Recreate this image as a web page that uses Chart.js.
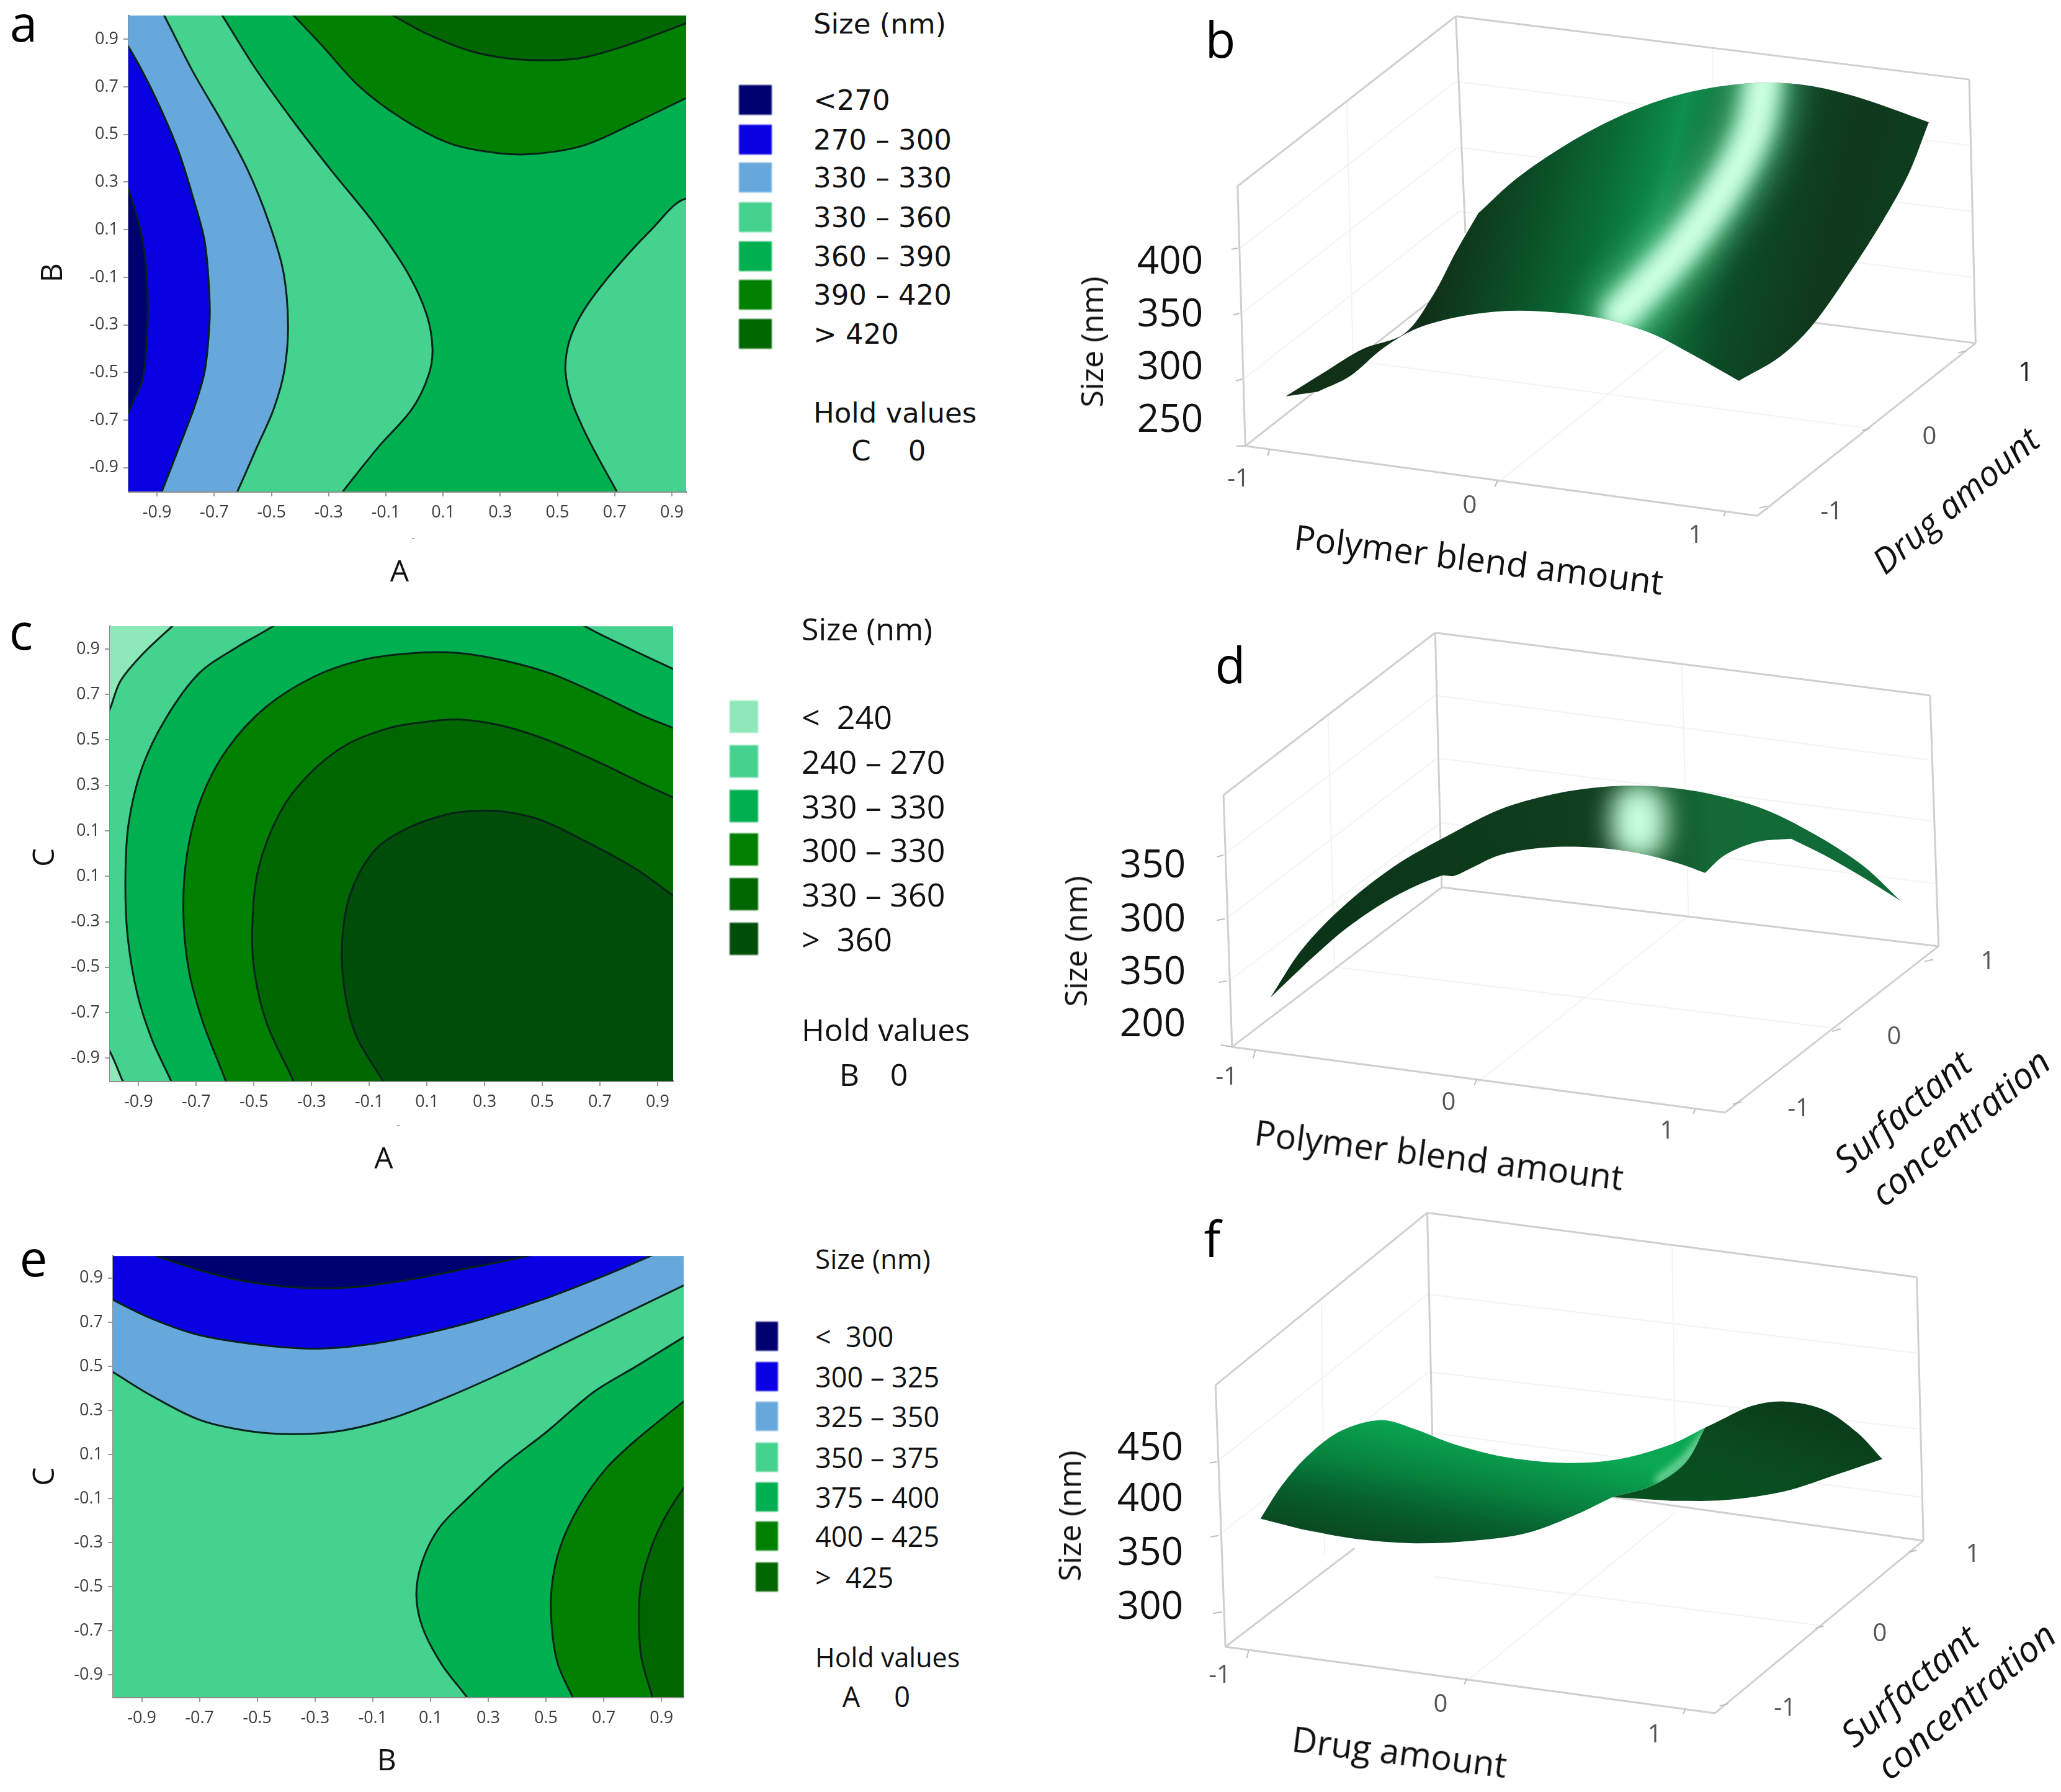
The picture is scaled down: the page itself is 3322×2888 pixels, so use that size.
<!DOCTYPE html>
<html>
<head>
<meta charset="utf-8">
<title>Size response surfaces</title>
<script src="https://cdn.jsdelivr.net/npm/chart.js@4/dist/chart.umd.js"></script>
<style>
  html, body { margin: 0; padding: 0; background: #fff; }
  #page { position: relative; width: 3322px; height: 2888px; overflow: hidden; background: #fff; }
  canvas { position: absolute; }
  .txt { position: absolute; white-space: pre; line-height: 1; transform-origin: center; }
  .swatch { position: absolute; filter: blur(1px); }
</style>
</head>
<body>
<div id="page"></div>
<script>
// colours of the contour bands
const navy = "#000070", blue = "#0a00e4", skyBlue = "#67a8dc", lightGreen = "#45d18e",
      midGreen = "#00b050", green = "#008000", darkGreen = "#006600", deepGreen = "#004d0a", paleGreen = "#8fe8ba";

// far corners, outside the axes, used to close the band shapes
const TL = [-1.4, 1.4], TR = [1.4, 1.4], BL = [-1.4, -1.4], BR = [1.4, -1.4];

// --- panel a: A vs B ---
const tickValues = [-0.9, -0.7, -0.5, -0.3, -0.1, 0.1, 0.3, 0.5, 0.7, 0.9];
const tickLabels = ["-0.9", "-0.7", "-0.5", "-0.3", "-0.1", "0.1", "0.3", "0.5", "0.7", "0.9"];
const aNavyEdge = [[-1.03, 0.38], [-0.96, 0.11], [-0.937, -0.08], [-0.933, -0.29], [-0.95, -0.525], [-0.983, -0.62], [-1.03, -0.74]];
const aBlueEdge = [[-1.03, 0.93], [-0.958, 0.781], [-0.892, 0.621], [-0.825, 0.43], [-0.775, 0.239], [-0.733, 0.048], [-0.717, -0.175], [-0.717, -0.302], [-0.733, -0.493], [-0.767, -0.637], [-0.817, -0.796], [-0.883, -1.0], [-0.9, -1.05]];
const aSkyEdge = [[-0.9, 1.05], [-0.875, 1.0], [-0.775, 0.765], [-0.675, 0.558], [-0.583, 0.351], [-0.508, 0.128], [-0.458, -0.079], [-0.442, -0.302], [-0.455, -0.493], [-0.492, -0.653], [-0.55, -0.812], [-0.617, -0.995], [-0.64, -1.05]];
const aLeftEdge = [[-0.7, 1.05], [-0.672, 1.0], [-0.558, 0.781], [-0.425, 0.558], [-0.292, 0.351], [-0.142, 0.128], [-0.025, -0.079], [0.042, -0.254], [0.063, -0.398], [0.05, -0.509], [-0.008, -0.653], [-0.125, -0.812], [-0.247, -0.995], [-0.28, -1.05]];
const aRightEdge = [[1.03, 0.14], [0.95, 0.231], [0.825, 0.096], [0.692, -0.079], [0.592, -0.239], [0.542, -0.366], [0.528, -0.493], [0.55, -0.621], [0.608, -0.78], [0.705, -0.995], [0.73, -1.05]];
const aGreenEdge = [[-0.46, 1.05], [-0.422, 1.0], [-0.325, 0.876], [-0.192, 0.701], [-0.042, 0.566], [0.125, 0.462], [0.292, 0.422], [0.425, 0.419], [0.592, 0.454], [0.758, 0.542], [0.95, 0.653], [1.03, 0.7]];
const aDarkEdge = [[-0.15, 1.05], [-0.075, 1.0], [0.042, 0.924], [0.192, 0.852], [0.325, 0.82], [0.442, 0.812], [0.575, 0.82], [0.725, 0.868], [0.95, 0.968], [1.03, 1.01]];

// --- panel c: A vs C (the axis repeats 0.1 in the source) ---
const cYLabels = ["-0.9", "-0.7", "-0.5", "-0.3", "0.1", "0.1", "0.3", "0.5", "0.7", "0.9"];
const cPaleTop = [[-0.74, 1.05], [-0.781, 1.003], [-0.888, 0.875], [-0.963, 0.759], [-1.0, 0.635], [-1.03, 0.56]];
const cPaleBottom = [[-1.03, -0.82], [-1.0, -0.87], [-0.958, -0.993], [-0.94, -1.05]];
const cMidEdge = [[-0.39, 1.05], [-0.43, 1.003], [-0.559, 0.908], [-0.691, 0.792], [-0.806, 0.594], [-0.888, 0.378], [-0.935, 0.13], [-0.946, -0.118], [-0.938, -0.367], [-0.905, -0.615], [-0.855, -0.814], [-0.79, -0.993], [-0.77, -1.05], [-0.77, -1.4], BR, [1.4, 0.77], [1.03, 0.77], [0.954, 0.812], [0.793, 0.908], [0.644, 1.003], [0.6, 1.05], [0.6, 1.4], [-0.39, 1.4]];
const cGreenEdge = [[-0.585, -1.05], [-0.6, -0.993], [-0.68, -0.731], [-0.728, -0.499], [-0.745, -0.251], [-0.732, -0.002], [-0.682, 0.246], [-0.592, 0.461], [-0.46, 0.643], [-0.295, 0.776], [-0.13, 0.85], [0.035, 0.88], [0.199, 0.883], [0.364, 0.85], [0.529, 0.792], [0.694, 0.701], [0.842, 0.61], [0.954, 0.552], [1.03, 0.51]];
const cDarkEdge = [[-0.35, -1.05], [-0.366, -0.993], [-0.455, -0.748], [-0.497, -0.532], [-0.506, -0.334], [-0.485, -0.069], [-0.41, 0.18], [-0.312, 0.345], [-0.18, 0.478], [-0.031, 0.552], [0.1, 0.58], [0.216, 0.589], [0.364, 0.561], [0.529, 0.494], [0.694, 0.403], [0.842, 0.312], [0.954, 0.246], [1.03, 0.2]];
const cDeepEdge = [[-0.03, -1.05], [-0.056, -0.993], [-0.147, -0.797], [-0.188, -0.582], [-0.193, -0.367], [-0.163, -0.168], [-0.081, 0.014], [0.035, 0.113], [0.166, 0.171], [0.265, 0.188], [0.364, 0.185], [0.496, 0.147], [0.661, 0.047], [0.826, -0.069], [0.954, -0.185], [1.03, -0.25]];

// --- panel e: B vs C ---
const eNavyEdge = [[-0.95, 1.05], [-0.859, 1.005], [-0.735, 0.95], [-0.571, 0.892], [-0.373, 0.858], [-0.175, 0.858], [0.023, 0.892], [0.22, 0.942], [0.451, 1.005], [0.55, 1.05], [0.55, 1.4], [-0.95, 1.4]];
const eBlueEdge = [[-1.05, 0.84], [-1.002, 0.803], [-0.867, 0.717], [-0.702, 0.642], [-0.488, 0.597], [-0.29, 0.58], [-0.109, 0.6], [0.088, 0.65], [0.286, 0.717], [0.5, 0.808], [0.714, 0.917], [0.871, 1.005], [0.95, 1.05]];
const eSkyEdge = [[-1.05, 0.51], [-1.002, 0.475], [-0.867, 0.367], [-0.702, 0.258], [-0.538, 0.208], [-0.373, 0.192], [-0.208, 0.208], [-0.027, 0.267], [0.171, 0.367], [0.385, 0.492], [0.583, 0.617], [0.78, 0.742], [0.978, 0.867], [1.05, 0.91]];
const eMidEdge = [[0.25, -1.05], [0.224, -0.997], [0.138, -0.85], [0.072, -0.683], [0.051, -0.533], [0.072, -0.383], [0.13, -0.233], [0.228, -0.1], [0.352, 0.05], [0.5, 0.2], [0.665, 0.383], [0.813, 0.5], [0.978, 0.633], [1.05, 0.69]];
const eGreenEdge = [[0.61, -1.05], [0.591, -0.997], [0.541, -0.85], [0.52, -0.683], [0.52, -0.5], [0.55, -0.317], [0.616, -0.133], [0.706, 0.033], [0.813, 0.167], [0.978, 0.342], [1.05, 0.42]];
const eDarkEdge = [[0.88, -1.05], [0.868, -0.997], [0.83, -0.817], [0.822, -0.633], [0.83, -0.483], [0.871, -0.3], [0.92, -0.167], [0.978, -0.05], [1.05, 0.08]];

// legends
const aLegendLabels = ["<270", "270 \u2013 300", "330 \u2013 330", "330 \u2013 360", "360 \u2013 390", "390 \u2013 420", "> 420"];
const aLegendColors = [navy, blue, skyBlue, lightGreen, midGreen, green, darkGreen];
const cLegendLabels = ["<  240", "240 \u2013 270", "330 \u2013 330", "300 \u2013 330", "330 \u2013 360", ">  360"];
const cLegendColors = [paleGreen, lightGreen, midGreen, green, darkGreen, deepGreen];
const eLegendLabels = ["<  300", "300 \u2013 325", "325 \u2013 350", "350 \u2013 375", "375 \u2013 400", "400 \u2013 425", ">  425"];
const eLegendColors = [navy, blue, skyBlue, lightGreen, midGreen, green, darkGreen];

// --- 3D panels, projected view units (x, y across a 0-1568 view) ---
// a corner of a surface is listed twice so the curve stays sharp there
const bFrame = [[285,480,625,42],[625,42,1425,205],[1425,205,1435,885],[285,480,297,1150],[625,42,640,600],[297,1150,640,705],[1150,825,1435,885],[1435,885,1095,1330],[1095,1330,297,1150]];
const bStubs = [[275,643,285,640],[278,812,288,808],[282,982,292,978],[283,1150,297,1150],[335,1158,332,1175],[690,1240,686,1255],[1045,1320,1042,1332],[1110,1305,1098,1310],[1270,1105,1258,1110],[1420,905,1408,910]];
const bFaint = [[625,210,1425,375],[628,380,1428,545],[630,545,1430,715],[1025,125,1030,795],[455,260,465,930],[690,1245,1030,795],[1270,1105,465,930],[285,645,625,210],[290,810,628,380],[292,980,630,545]];
const bSurface = [[360,1022],[420,960],[480,900],[545,860],[590,760],[625,650],[660,550],[660,550],[720,460],[800,370],[880,300],[960,250],[1040,222],[1110,213],[1180,222],[1260,255],[1362,315],[1362,315],[1330,450],[1290,570],[1240,700],[1180,840],[1130,920],[1066,982],[1066,982],[1000,920],[930,860],[850,820],[760,803],[690,803],[620,820],[560,850],[510,900],[460,970],[410,1010]];
const bGlow = [[1105,200],[1090,330],[1045,480],[975,640],[880,810]];
const bShade = [[0,"#103018"],[0.15,"#0c4a24"],[0.3,"#0a6a36"],[0.38,"#0b7f42"],[0.43,"#0f8f50"],[0.52,"#0f6a38"],[0.62,"#0c4a26"],[0.8,"#10381c"],[1,"#0c4020"]];

const dFrame = [[302,492,622,65],[622,65,1370,230],[1370,230,1383,890],[302,492,315,1155],[622,65,632,735],[315,1155,632,735],[632,735,1383,890],[1383,890,1060,1328],[1060,1328,315,1155]];
const dStubs = [[292,655,302,650],[292,822,304,818],[295,985,307,982],[298,1150,315,1155],[350,1165,347,1185],[685,1240,681,1256],[1015,1320,1012,1332],[1085,1300,1072,1306],[1235,1108,1222,1114],[1375,925,1362,930]];
const dFaint = [[622,230,1370,400],[625,395,1372,560],[630,565,1378,725],[995,150,1005,810],[460,280,470,945],[685,1250,1005,810],[1235,1108,470,945],[302,650,622,230],[305,820,625,395],[308,985,630,565]];
const dSurface = [[373,1025],[420,900],[480,790],[560,680],[640,600],[720,530],[800,490],[880,470],[960,470],[1040,490],[1120,530],[1200,600],[1270,680],[1325,770],[1325,770],[1270,710],[1210,650],[1160,607],[1160,607],[1110,615],[1060,650],[1030,697],[1030,697],[990,672],[930,645],[860,630],[790,630],[720,650],[670,690],[650,705],[630,705],[560,760],[490,840],[430,930]];
const dGlow = [[930,535],[930,590]];
const dShade = [[0,"#0a3318"],[0.3,"#0e3a1c"],[0.55,"#113f20"],[0.72,"#156b37"],[1,"#0e6a38"]];

const fFrame = [[290,495,610,40],[610,40,1350,210],[1350,210,1360,905],[290,495,305,1185],[610,40,618,650],[305,1185,500,925],[890,790,1360,905],[1360,905,1045,1360],[1045,1360,305,1185]];
const fStubs = [[282,700,292,697],[282,895,294,892],[286,1097,300,1093],[340,1195,337,1215],[670,1268,666,1284],[1000,1350,997,1362],[1065,1335,1052,1341],[1210,1130,1197,1136],[1350,930,1337,936]];
const fFaint = [[610,255,1350,410],[612,460,1352,610],[615,620,1356,790],[980,125,985,690],[450,270,455,950],[670,1275,985,830],[1210,1130,620,1000],[292,697,610,255],[294,892,612,460]];
const fSheet = [[358,847],[390,760],[430,680],[480,615],[540,587],[590,610],[650,650],[730,685],[820,700],[900,690],[980,650],[1030,607],[1030,607],[1000,700],[950,760],[890,790],[890,790],[830,840],[760,885],[680,905],[590,912],[500,900],[420,875]];
const fHump = [[890,790],[950,760],[1000,700],[1030,607],[1030,607],[1050,590],[1100,550],[1150,538],[1210,560],[1260,620],[1298,690],[1298,690],[1230,730],[1150,775],[1060,798],[980,800]];
const fGlow = [[1030,625],[1000,690],[960,745]];
const fSheetShade = [[0,"#0aa854"],[0.4,"#08843f"],[0.7,"#06602f"],[1,"#0a4a22"]];
const fHumpShade = [[0,"#0a3d1a"],[0.6,"#0a4a20"],[1,"#08501f"]];

const page = document.getElementById("page");

function addText(x, y, text, size, opts) {
  opts = opts || {};
  const el = document.createElement("div");
  el.className = "txt";
  el.textContent = text;
  el.style.left = x + "px";
  el.style.top = y + "px";
  el.style.fontSize = size + "px";
  el.style.fontFamily = opts.font || "'Open Sans'";
  el.style.color = opts.color || "#111";
  if (opts.italic) el.style.fontStyle = "italic";
  const ax = opts.left ? "0" : "-50%";
  el.style.transform = "translate(" + ax + ",-50%) rotate(" + (opts.rot || 0) + "deg)";
  page.appendChild(el);
}

function addCanvas(left, top, w, h) {
  const c = document.createElement("canvas");
  c.style.left = left + "px";
  c.style.top = top + "px";
  c.style.width = w + "px";
  c.style.height = h + "px";
  c.width = w;
  c.height = h;
  page.appendChild(c);
  return c;
}

// closed shapes: fills the path of a line dataset, optionally with a gradient or a blurred highlight
const shapeFill = {
  id: "shapeFill",
  beforeDatasetDraw(chart, args) {
    const ds = chart.data.datasets[args.index];
    const ctx = chart.ctx;
    const a = chart.chartArea;
    const x = chart.scales.x, y = chart.scales.y;
    args.meta.dataset.updateControlPoints(a, "x");
    if (ds.glowOver) {
      const i = chart.data.datasets.indexOf(ds.glowOver);
      const under = chart.getDatasetMeta(i).dataset;
      under.updateControlPoints(a, "x");
      ctx.save();
      ctx.beginPath();
      under.path(ctx);
      ctx.closePath();
      ctx.clip();
      ctx.filter = "blur(" + ds.glowBlur + "px)";
      ctx.lineCap = "round";
      ctx.strokeStyle = ds.glowColor;
      ctx.lineWidth = ds.glowWidth;
      ctx.beginPath();
      args.meta.dataset.path(ctx);
      ctx.stroke();
      ctx.restore();
      return false;
    }
    if (!ds.closed) return;
    ctx.save();
    ctx.beginPath();
    ctx.rect(a.left, a.top, a.width, a.height);
    ctx.clip();
    ctx.beginPath();
    args.meta.dataset.path(ctx);
    ctx.closePath();
    if (ds.shade) {
      const g = ctx.createLinearGradient(
        x.getPixelForValue(ds.shadeFrom[0]), y.getPixelForValue(ds.shadeFrom[1]),
        x.getPixelForValue(ds.shadeTo[0]), y.getPixelForValue(ds.shadeTo[1]));
      ds.shade.forEach((s) => g.addColorStop(s[0], s[1]));
      ctx.fillStyle = g;
    } else {
      ctx.fillStyle = ds.fillColor;
    }
    ctx.fill();
    ctx.restore();
  },
};

const toPoints = (list) => list.map((p) => ({ x: p[0], y: p[1] }));

function band(edge, closers, color) {
  return {
    data: toPoints(edge.concat(closers)),
    closed: true,
    fillColor: color,
    showLine: true,
    borderColor: "#06231a",
    borderWidth: 3,
    tension: 0.33,
    capBezierPoints: false,
    pointRadius: 0,
  };
}

function contourChart(box, plot, xMax, yLabels, xTitle, yTitle, bands) {
  const c = addCanvas(box.left, box.top, box.w, box.h);
  const right = box.w - plot.right;
  new Chart(c, {
    type: "scatter",
    // chart.js paints the first dataset on top, so the list is reversed
    data: { datasets: bands.slice().reverse() },
    plugins: [shapeFill],
    options: {
      responsive: false,
      animation: false,
      devicePixelRatio: 1,
      layout: { padding: { top: plot.top, right: right, left: 0, bottom: 0 } },
      elements: { line: { capBezierPoints: false } },
      plugins: { legend: { display: false }, tooltip: { enabled: false } },
      scales: {
        x: {
          type: "linear", min: -1, max: xMax,
          afterFit: (s) => { s.height = box.h - plot.bottom; },
          afterBuildTicks: (s) => { s.ticks = tickValues.map((v) => ({ value: v })); },
          border: { color: "#8c8c8c", width: 3 },
          grid: { drawOnChartArea: false, color: "#9a9a9a", lineWidth: 2, tickLength: 8 },
          ticks: {
            color: "#3d3d3d", padding: 10, maxRotation: 0, autoSkip: false, includeBounds: false,
            font: { family: "'Open Sans'", size: 27 },
            callback: (v, i) => tickLabels[i],
          },
          title: { display: true, text: xTitle, color: "#111", font: { family: "'Open Sans'", size: 48 }, padding: { top: 0, bottom: plot.xTitlePad } },
        },
        y: {
          type: "linear", min: -1, max: 1,
          afterFit: (s) => { s.width = plot.left; },
          afterBuildTicks: (s) => { s.ticks = tickValues.map((v) => ({ value: v })); },
          border: { color: "#8c8c8c", width: 3 },
          grid: { drawOnChartArea: false, color: "#9a9a9a", lineWidth: 2, tickLength: 8 },
          ticks: {
            color: "#3d3d3d", padding: 8, autoSkip: false, includeBounds: false,
            font: { family: "'Open Sans'", size: 27 },
            callback: (v, i) => yLabels[i],
          },
          title: { display: true, text: yTitle, color: "#111", font: { family: "'Open Sans'", size: 48 }, padding: { top: plot.yTitlePad, bottom: 0 } },
        },
      },
    },
  });
}

const fullRect = [TL, TR, BR, BL];

contourChart(
  { left: 0, top: 0, w: 1180, h: 960 },
  { left: 207, top: 25, right: 1106, bottom: 792, xTitlePad: 8, yTitlePad: 58 },
  0.95, tickLabels, "A  ", "B     ",
  [
    band(fullRect, [], midGreen),
    band(aLeftEdge, [BL, TL], lightGreen),
    band(aRightEdge, [BR, TR], lightGreen),
    band(aSkyEdge, [BL, TL], skyBlue),
    band(aBlueEdge, [BL, TL], blue),
    band(aNavyEdge, [BL, TL], navy),
    band(aGreenEdge, [TR, [-0.46, 1.4]], green),
    band(aDarkEdge, [TR, [-0.15, 1.4]], darkGreen),
  ]
);
contourChart(
  { left: 0, top: 985, w: 1170, h: 915 },
  { left: 177, top: 19, right: 1085, bottom: 757, xTitlePad: 2, yTitlePad: 45 },
  0.954, cYLabels, "A  ", "C ",
  [
    band(fullRect, [], lightGreen),
    band(cPaleTop, [TL], paleGreen),
    band(cPaleBottom, [BL], paleGreen),
    band(cMidEdge, [], midGreen),
    band(cGreenEdge, [BR], green),
    band(cDarkEdge, [BR], darkGreen),
    band(cDeepEdge, [BR], deepGreen),
  ]
);
contourChart(
  { left: 0, top: 2000, w: 1210, h: 888 },
  { left: 182, top: 23, right: 1102, bottom: 735, xTitlePad: 20, yTitlePad: 45 },
  0.977, tickLabels, "B   ", "C",
  [
    band(fullRect, [], lightGreen),
    band(eSkyEdge, [TR, TL], skyBlue),
    band(eBlueEdge, [TR, TL], blue),
    band(eNavyEdge, [], navy),
    band(eMidEdge, [BR], midGreen),
    band(eGreenEdge, [BR], green),
    band(eDarkEdge, [BR], darkGreen),
  ]
);

function segment(seg, color, width) {
  return {
    data: [{ x: seg[0], y: seg[1] }, { x: seg[2], y: seg[3] }],
    showLine: true, borderColor: color, borderWidth: width, pointRadius: 0,
  };
}

function surface(list, stops, from, to) {
  return {
    data: toPoints(list), closed: true, shade: stops, shadeFrom: from, shadeTo: to,
    showLine: true, borderWidth: 0, tension: 0.33, capBezierPoints: false, pointRadius: 0,
  };
}

function glow(list, under, width, blurPx, color) {
  return {
    data: toPoints(list), glowOver: under, glowWidth: width, glowBlur: blurPx, glowColor: color,
    showLine: true, borderWidth: 1, tension: 0.33, capBezierPoints: false, pointRadius: 0,
  };
}

function surfaceChart(box, frame, stubs, faint, layers) {
  const c = addCanvas(box.left, box.top, box.w, box.h);
  const sets = faint.map((s) => segment(s, "#f3f3f3", 2))
    .concat(frame.map((s) => segment(s, "#cfcfcf", 3)))
    .concat(stubs.map((s) => segment(s, "#bdbdbd", 2)))
    .concat(layers);
  new Chart(c, {
    type: "scatter",
    data: { datasets: sets.reverse() },
    plugins: [shapeFill],
    options: {
      responsive: false,
      animation: false,
      devicePixelRatio: 1,
      plugins: { legend: { display: false }, tooltip: { enabled: false } },
      scales: {
        x: { type: "linear", min: 0, max: 1568, display: false },
        y: { type: "linear", min: 0, max: 1568, reverse: true, display: false },
      },
    },
  });
}

const bBase = surface(bSurface, bShade, [620, 500], [1340, 790]);
surfaceChart({ left: 1700, top: 0, w: 1622, h: 980 }, bFrame, bStubs, bFaint,
  [bBase, glow(bGlow, bBase, 90, 28, "#5fc48e"), glow(bGlow, bBase, 55, 14, "#ccffe0")]);

const dBase = surface(dSurface, dShade, [400, 800], [1300, 600]);
surfaceChart({ left: 1650, top: 980, w: 1672, h: 960 }, dFrame, dStubs, dFaint,
  [dBase, glow(dGlow, dBase, 90, 20, "#c8ffdc")]);

const fFront = surface(fSheet, fSheetShade, [590, 590], [555, 910]);
const fBack = surface(fHump, fHumpShade, [1150, 540], [1100, 800]);
surfaceChart({ left: 1650, top: 1930, w: 1672, h: 958 }, fFrame, fStubs, fFaint,
  [fBack, fFront, glow(fGlow, fFront, 14, 6, "#6fd39a")]);

// legends
function legend(x, labels, colors, ys, swX, swW, swH, font, size) {
  labels.forEach((t, i) => {
    const s = document.createElement("div");
    s.className = "swatch";
    s.style.left = swX + "px";
    s.style.top = ys[i] - swH / 2 + "px";
    s.style.width = swW + "px";
    s.style.height = swH + "px";
    s.style.background = colors[i];
    page.appendChild(s);
    addText(x, ys[i], t, size, { left: true, font: font });
  });
}

const aLegendY = [161, 225, 286, 350, 413, 475, 538];
const cLegendY = [1155, 1227, 1299, 1369, 1441, 1513];
const eLegendY = [2153, 2218, 2282, 2348, 2412, 2475, 2541];
legend(1311, aLegendLabels, aLegendColors, aLegendY, 1191, 53, 48, "'DejaVu Sans'", 45);
addText(1311, 38, "Size (nm)", 45, { left: true, font: "'DejaVu Sans'" });
addText(1311, 665, "Hold values", 45, { left: true, font: "'DejaVu Sans'" });
addText(1388, 726, "C", 45, { font: "'DejaVu Sans'" });
addText(1478, 726, "0", 45, { font: "'DejaVu Sans'" });

legend(1292, cLegendLabels, cLegendColors, cLegendY, 1176, 46, 52, "'Open Sans'", 52);
addText(1292, 1013, "Size (nm)", 50, { left: true });
addText(1292, 1659, "Hold values", 50, { left: true });
addText(1369, 1731, "B", 50);
addText(1449, 1731, "0", 50);

legend(1314, eLegendLabels, eLegendColors, eLegendY, 1218, 36, 47, "'Open Sans'", 45);
addText(1314, 2028, "Size (nm)", 44, { left: true });
addText(1314, 2670, "Hold values", 43, { left: true });
addText(1372, 2733, "A", 45);
addText(1454, 2733, "0", 45);

// stray marks under the x axes of a and c
addText(666, 866, "-", 16, { color: "#777" });
addText(642, 1812, "-", 16, { color: "#777" });

// panel letters
const panelLetters = [["a", 38, 36], ["b", 1967, 62], ["c", 34, 1016], ["d", 1983, 1070], ["e", 54, 2026], ["f", 1954, 1995]];
panelLetters.forEach((p) => addText(p[1], p[2], p[0], 80, { color: "#000" }));

// 3D axis text
const grey = "#555";
[["400", 1886, 417], ["350", 1886, 502], ["300", 1886, 587], ["250", 1886, 672]].forEach((t) => addText(t[1], t[2], t[0], 62));
addText(1759, 551, "Size (nm)", 50, { rot: -90 });
[["-1", 1996, 769], ["0", 2369, 812], ["1", 2733, 860], ["-1", 2952, 822], ["0", 3110, 701]].forEach((t) => addText(t[1], t[2], t[0], 40, { color: grey }));
addText(3265, 597, "1", 44, { color: "#222" });
addText(2384, 900, "Polymer blend amount", 56, { rot: 7 });
addText(3151, 805, "Drug amount", 56, { rot: -40, italic: true });

[["350", 1858, 1390], ["300", 1858, 1477], ["350", 1858, 1562], ["200", 1858, 1646]].forEach((t) => addText(t[1], t[2], t[0], 62));
addText(1733, 1517, "Size (nm)", 50, { rot: -90 });
[["-1", 1977, 1733], ["0", 2335, 1774], ["1", 2687, 1820], ["-1", 2899, 1784], ["0", 3053, 1668], ["1", 3204, 1547]].forEach((t) => addText(t[1], t[2], t[0], 40, { color: grey }));
addText(2320, 1860, "Polymer blend amount", 56, { rot: 7 });
addText(3066, 1790, "Surfactant", 58, { rot: -40, italic: true });
addText(3159, 1816, "concentration", 58, { rot: -40, italic: true });

[["450", 1854, 2329], ["400", 1854, 2411], ["350", 1854, 2498], ["300", 1854, 2585]].forEach((t) => addText(t[1], t[2], t[0], 62));
addText(1723, 2443, "Size (nm)", 50, { rot: -90 });
[["-1", 1966, 2697], ["0", 2322, 2744], ["1", 2667, 2793], ["-1", 2877, 2750], ["0", 3030, 2630], ["1", 3180, 2502]].forEach((t) => addText(t[1], t[2], t[0], 40, { color: grey }));
addText(2256, 2822, "Drug amount", 56, { rot: 7 });
addText(3077, 2716, "Surfactant", 58, { rot: -40, italic: true });
addText(3168, 2740, "concentration", 58, { rot: -40, italic: true });
</script>
</body>
</html>
